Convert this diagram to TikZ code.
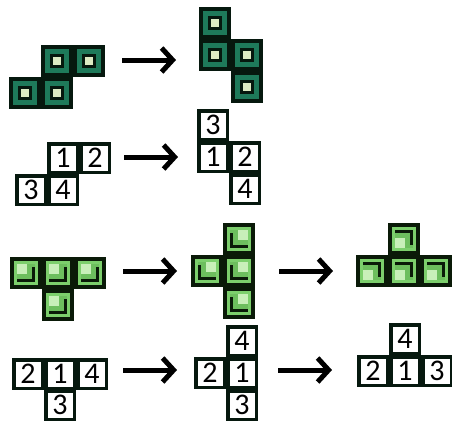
\documentclass[tikz,border=0pt]{standalone}
\usepackage{fontspec}
\setmainfont{Carlito}
\usetikzlibrary{arrows.meta}
\definecolor{dk}{HTML}{06180E}
\definecolor{tealc}{HTML}{1E7A5A}
\definecolor{ltc}{HTML}{DCEBC3}
\definecolor{gdk}{HTML}{0A1A08}
\definecolor{gring}{HTML}{7CCF6C}
\definecolor{gmid}{HTML}{6DBE5E}
\definecolor{ghi}{HTML}{C8EFB9}
\newcommand\dcell[2]{%
 \begin{scope}[shift={(#1+16,#2+16)}]
 \fill[dk] (-16,-16) rectangle (16,16);
 \fill[tealc] (-12,-12) rectangle (12,12);
 \fill[dk] (-7,-7) rectangle (7,7);
 \fill[ltc] (-4,-4) rectangle (4,4);
 \end{scope}}
\newcommand\gcell[4]{%
 \begin{scope}[shift={(#1+16,#2+16)},xscale=#3,yscale=#4]
 \fill[gdk] (-16,-16) rectangle (16,16);
 \fill[gring] (-12,-12) rectangle (12,12);
 \fill[gmid] (-9,-9) rectangle (9,9);
 \fill[ghi] (-9,-9) rectangle (1,1);
 \fill[gdk] (-9,6) rectangle (9,9);
 \fill[gdk] (6,-6) rectangle (9,9);
 \end{scope}}
\newcommand\ncell[4]{%
 \fill[dk] (#2,#3) rectangle ++(32,32);
 \fill[white] (#2+3.5,#3+3.5) rectangle ++(25,25);
 \node[num] (#1) at (#2+16,#3+16) {#4};}
\tikzset{
 num/.style={inner sep=0pt, text=black, font=\fontsize{30}{30}\selectfont},
 arr/.style={line width=5pt, -{Straight Barb[length=11pt,width=24pt]}}
}
\begin{document}
\begin{tikzpicture}[x=1pt,y=-1pt]
\useasboundingbox (0,0) rectangle (452,421);
\fill[white] (0,0) rectangle (452,421);
% row 1
\dcell{41}{45}\dcell{73}{45}\dcell{9}{77}\dcell{41}{77}
\dcell{199}{7}\dcell{199}{39}\dcell{231}{39}\dcell{231}{71}
\coordinate (a1s) at (122,60); \coordinate (a1e) at (176,60);
\draw[arr] (a1s) -- (a1e);
% row 2
\ncell{r2a1}{47}{142}{1}\ncell{r2a2}{79}{142}{2}\ncell{r2a3}{15}{174}{3}\ncell{r2a4}{47}{174}{4}
\ncell{r2b3}{197}{109}{3}\ncell{r2b1}{197}{141}{1}\ncell{r2b2}{229}{141}{2}\ncell{r2b4}{229}{173}{4}
\coordinate (a2s) at (124,157); \coordinate (a2e) at (178,157);
\draw[arr] (a2s) -- (a2e);
% row 3
\gcell{10}{257}{1}{1}\gcell{42}{257}{1}{1}\gcell{74}{257}{1}{1}\gcell{42}{289}{1}{1}
\gcell{223}{223}{-1}{1}\gcell{191}{255}{-1}{1}\gcell{223}{255}{-1}{1}\gcell{223}{287}{-1}{1}
\gcell{388}{223}{1}{-1}\gcell{356}{255}{1}{-1}\gcell{388}{255}{1}{-1}\gcell{420}{255}{1}{-1}
\coordinate (a3s) at (123,271); \coordinate (a3e) at (177,271);
\draw[arr] (a3s) -- (a3e);
\coordinate (a4s) at (279,271); \coordinate (a4e) at (333,271);
\draw[arr] (a4s) -- (a4e);
% row 4
\ncell{r4a2}{12}{358}{2}\ncell{r4a1}{44}{358}{1}\ncell{r4a4}{76}{358}{4}\ncell{r4a3}{44}{389}{3}
\ncell{r4b4}{226}{325}{4}\ncell{r4b2}{194}{357}{2}\ncell{r4b1}{226}{357}{1}\ncell{r4b3}{226}{389}{3}
\ncell{r4c4}{389}{323}{4}\ncell{r4c2}{357}{355}{2}\ncell{r4c1}{389}{355}{1}\ncell{r4c3}{421}{355}{3}
\coordinate (a5s) at (123,370); \coordinate (a5e) at (177,370);
\draw[arr] (a5s) -- (a5e);
\coordinate (a6s) at (278,370); \coordinate (a6e) at (332,370);
\draw[arr] (a6s) -- (a6e);
\end{tikzpicture}
\end{document}
